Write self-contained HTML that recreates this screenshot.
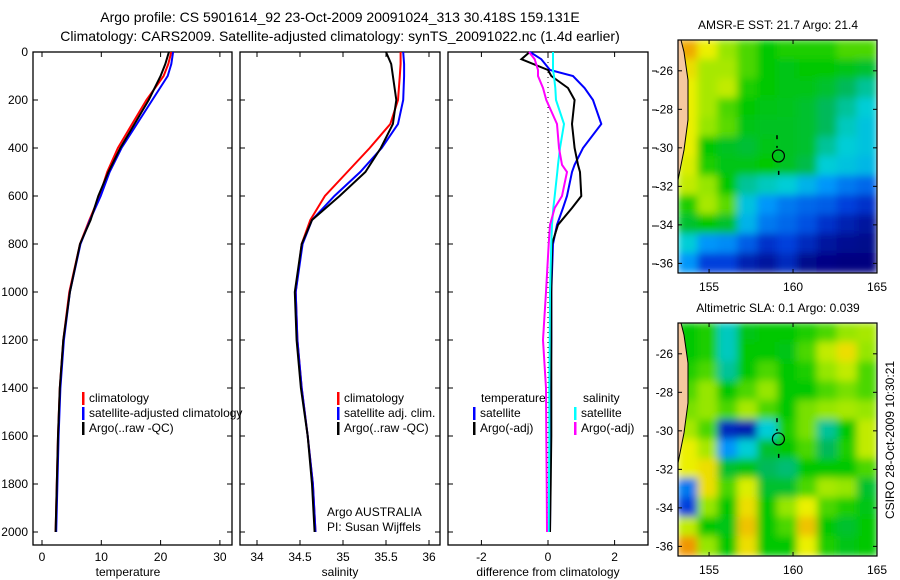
<!DOCTYPE html>
<html><head><meta charset="utf-8"><style>
html,body{margin:0;padding:0;background:#fff}
svg{display:block;font-family:"Liberation Sans",sans-serif}
</style></head><body>
<svg id="c" width="900" height="580" viewBox="0 0 900 580">
<defs>
<filter id="bl" x="0" y="0" width="1" height="1"><feGaussianBlur stdDeviation="4"/></filter>
<clipPath id="m1"><rect x="678" y="40" width="199" height="233"/></clipPath>
<clipPath id="m2"><rect x="678" y="323" width="199" height="233"/></clipPath>
</defs>
<text x="340" y="22" font-size="14" text-anchor="middle">Argo profile: CS 5901614_92 23-Oct-2009 20091024_313 30.418S 159.131E</text>
<text x="340" y="41" font-size="14" text-anchor="middle">Climatology: CARS2009. Satellite-adjusted climatology: synTS_20091022.nc (1.4d earlier)</text>
<g id="g"></g>
</svg>
<script>
const depths=[0,50,100,200,300,400,500,600,700,800,1000,1200,1400,1600,1800,2000];
const tempClim=[21.8,21.3,20.5,17.6,15.2,12.8,11.0,9.7,8.0,6.4,4.6,3.6,3.0,2.7,2.5,2.3];
const tempSat=[22.1,21.8,21.2,18.6,16.0,13.4,11.4,9.9,8.1,6.5,4.7,3.7,3.1,2.8,2.6,2.4];
const tempArgo=[21.4,20.8,20.0,18.0,15.6,13.2,11.2,9.5,8.2,6.4,4.7,3.6,3.0,2.7,2.5,2.3];
const salClim=[35.67,35.67,35.66,35.64,35.55,35.31,35.05,34.79,34.62,34.52,34.45,34.47,34.52,34.59,34.65,34.68];
const salSat=[35.70,35.71,35.71,35.70,35.64,35.45,35.2,34.9,34.64,34.53,34.45,34.47,34.52,34.59,34.65,34.68];
const salArgo=[35.5,35.56,35.58,35.62,35.58,35.44,35.26,34.96,34.64,34.52,34.44,34.46,34.51,34.59,34.64,34.67];
const diffDepths=[0,30,75,100,150,200,300,400,470,500,600,650,720,800,1000,1200,1400,1600,1800,2000];
const diffTempSat=[-0.54,-0.2,0.06,0.75,1.1,1.35,1.6,1.05,0.8,0.72,0.57,0.45,0.27,0.15,0.1,0.1,0.08,0.08,0.07,0.06];
const diffTempArgo=[-0.55,-0.8,0.0,0.1,0.6,0.8,0.72,0.8,0.9,0.96,1.0,0.72,0.3,0.12,0.1,0.1,0.1,0.1,0.08,0.06];
const diffSalSat=[0.15,0.15,0.15,0.18,0.22,0.24,0.48,0.36,0.3,0.28,0.2,0.16,0.12,0.1,0.06,0.05,0.04,0.04,0.03,0.02];
const diffSalArgo=[-0.57,-0.4,-0.3,-0.3,-0.15,-0.05,0.27,0.33,0.42,0.57,0.42,0.2,0.06,0.02,-0.06,-0.15,-0.06,-0.05,-0.04,-0.03];
const depthTicks=[0,200,400,600,800,1000,1200,1400,1600,1800,2000];
const tempTicks=[0,10,20,30];
const salTicks=["34","34.5","35","35.5","36"];
const diffTicks=[-2,0,2];
const sstGrid=[
[0.88,0.8,0.7,0.65,0.6,0.62,0.62,0.62,0.65,0.65],
[0.82,0.72,0.72,0.65,0.6,0.58,0.6,0.6,0.58,0.55],
[0.8,0.72,0.75,0.62,0.6,0.58,0.58,0.55,0.5,0.45],
[0.8,0.72,0.65,0.6,0.58,0.57,0.55,0.5,0.45,0.4],
[0.8,0.7,0.66,0.58,0.56,0.56,0.55,0.5,0.42,0.38],
[0.8,0.6,0.56,0.54,0.58,0.56,0.55,0.45,0.4,0.38],
[0.78,0.62,0.58,0.58,0.6,0.56,0.52,0.4,0.38,0.36],
[0.75,0.7,0.6,0.45,0.42,0.4,0.35,0.3,0.25,0.22],
[0.62,0.72,0.66,0.38,0.3,0.25,0.22,0.2,0.15,0.12],
[0.55,0.6,0.55,0.35,0.25,0.22,0.18,0.12,0.08,0.05],
[0.4,0.3,0.28,0.2,0.12,0.15,0.1,0.05,0.03,0.02],
[0.3,0.15,0.15,0.08,0.05,0.1,0.02,0.01,0.0,0.0]];
const slaGrid=[
[0.6,0.62,0.42,0.58,0.6,0.6,0.62,0.65,0.7,0.72],
[0.6,0.62,0.42,0.6,0.6,0.58,0.65,0.75,0.82,0.7],
[0.62,0.65,0.45,0.6,0.65,0.6,0.62,0.7,0.75,0.65],
[0.65,0.7,0.6,0.65,0.7,0.6,0.6,0.65,0.68,0.65],
[0.68,0.7,0.65,0.72,0.65,0.6,0.68,0.7,0.72,0.7],
[0.72,0.65,0.1,0.08,0.4,0.62,0.68,0.45,0.6,0.75],
[0.8,0.72,0.3,0.4,0.55,0.6,0.65,0.5,0.62,0.75],
[0.8,0.82,0.55,0.58,0.5,0.48,0.6,0.6,0.6,0.65],
[0.25,0.82,0.65,0.78,0.55,0.55,0.65,0.72,0.7,0.55],
[0.15,0.7,0.6,0.82,0.6,0.7,0.8,0.65,0.62,0.58],
[0.75,0.6,0.58,0.85,0.6,0.65,0.85,0.6,0.55,0.6],
[0.9,0.7,0.6,0.82,0.6,0.6,0.8,0.62,0.58,0.6]];
const lonTicks=[155,160,165];
const latTicks=[-26,-28,-30,-32,-34,-36];

const NS="http://www.w3.org/2000/svg";
const G=document.getElementById('g');
function mk(t,a,p){const e=document.createElementNS(NS,t);for(const k in a)e.setAttribute(k,a[k]);(p||G).appendChild(e);return e;}
const yD=d=>52+d*0.24;
const xT=t=>42+t*5.93;
const xS=s=>257+86*(s-34);
const xDf=d=>548+33.3*d;

function panel(x0,x1,name){
  const r=mk('rect',{x:x0,y:52,width:x1-x0,height:493,fill:'none',stroke:'#000','stroke-width':1.3});
  
  
  depthTicks.forEach(d=>{mk('line',{x1:x0,x2:x0+5,y1:yD(d),y2:yD(d),stroke:'#000'});mk('line',{x1:x1-5,x2:x1,y1:yD(d),y2:yD(d),stroke:'#000'});});
}
function line(xs,ds,fx,col,name){
  const pts=xs.map((v,i)=>fx(v).toFixed(1)+','+yD(ds[i]).toFixed(1)).join(' ');
  const p=mk('polyline',{points:pts,fill:'none',stroke:col,'stroke-width':2});
  
  
}
function txt(x,y,s,opt){const t=mk('text',Object.assign({x:x,y:y,'font-size':12},opt||{}));t.textContent=s;return t;}

panel(33,232,'temperature-panel');
depthTicks.forEach(d=>{const t=txt(28,yD(d)+4,String(d),{'text-anchor':'end'});});
tempTicks.forEach(v=>{mk('line',{x1:xT(v),x2:xT(v),y1:545,y2:540,stroke:'#000'});mk('line',{x1:xT(v),x2:xT(v),y1:52,y2:57,stroke:'#000'});const t=txt(xT(v),561,String(v),{'text-anchor':'middle'});});
line(tempClim,depths,xT,'#f00','temp-climatology-line');
line(tempSat,depths,xT,'#00f','temp-satellite-line');
line(tempArgo,depths,xT,'#000','temp-argo-line');
let t=txt(128,576,'temperature',{'text-anchor':'middle'});

panel(240,440,'salinity-panel');
salTicks.forEach(v=>{const x=xS(+v);mk('line',{x1:x,x2:x,y1:545,y2:540,stroke:'#000'});mk('line',{x1:x,x2:x,y1:52,y2:57,stroke:'#000'});const tt=txt(x,561,v,{'text-anchor':'middle'});});
line(salClim,depths,xS,'#f00','sal-climatology-line');
line(salSat,depths,xS,'#00f','sal-satellite-line');
line(salArgo,depths,xS,'#000','sal-argo-line');
t=txt(340,576,'salinity',{'text-anchor':'middle'});

panel(448,648,'difference-panel');
diffTicks.forEach(v=>{const x=xDf(v);mk('line',{x1:x,x2:x,y1:545,y2:540,stroke:'#000'});mk('line',{x1:x,x2:x,y1:52,y2:57,stroke:'#000'});const tt=txt(x,561,v<0?'-'+Math.abs(v):String(v),{'text-anchor':'middle'});});
mk('line',{x1:xDf(0),x2:xDf(0),y1:52,y2:532,stroke:'#000','stroke-dasharray':'1,4'});
line(diffTempSat,diffDepths,xDf,'#00f','diff-temp-satellite-line');
line(diffTempArgo,diffDepths,xDf,'#000','diff-temp-argo-line');
line(diffSalSat,diffDepths,xDf,'#0ff','diff-sal-satellite-line');
line(diffSalArgo,diffDepths,xDf,'#f0f','diff-sal-argo-line');
t=txt(548,576,'difference from climatology',{'text-anchor':'middle'});
[71,110,148,187,226,264].forEach(y=>mk('line',{x1:652,x2:657,y1:y,y2:y,stroke:'#000'}));

function leg(x,y,col,label,name){
  mk('rect',{x:x,y:y-10,width:2.5,height:13,fill:col});
  const e=txt(x+7,y,label);
  
  
}
leg(82,402,'#f00','climatology','legend-climatology');
leg(82,417,'#00f','satellite-adjusted climatology','legend-satellite-adjusted');
leg(82,432,'#000','Argo(..raw -QC)','legend-argo');
leg(337,402,'#f00','climatology','legend-climatology-2');
leg(337,417,'#00f','satellite adj. clim.','legend-satellite-2');
leg(337,432,'#000','Argo(..raw -QC)','legend-argo-2');
t=txt(481,402,'temperature');
t=txt(583,402,'salinity');
leg(473,417,'#00f','satellite','legend-temp-satellite');
leg(473,432,'#000','Argo(-adj)','legend-temp-argo');
leg(574,417,'#0ff','satellite','legend-sal-satellite');
leg(574,432,'#f0f','Argo(-adj)','legend-sal-argo');
t=txt(327,516,'Argo AUSTRALIA');
t=txt(327,531,'PI: Susan Wijffels');

const cmapStops=[[0,0,0,128],[0.15,0,64,220],[0.3,0,150,250],[0.4,0,205,215],[0.5,0,185,90],[0.6,0,200,0],[0.7,150,230,0],[0.8,235,240,0],[0.9,240,150,0],[1,200,0,0]];
function cmap(v){
  v=Math.max(0,Math.min(1,v));
  for(let i=1;i<cmapStops.length;i++){
    const a=cmapStops[i-1],b=cmapStops[i];
    if(v<=b[0]){const f=(v-a[0])/(b[0]-a[0]);
      return `rgb(${Math.round(a[1]+f*(b[1]-a[1]))},${Math.round(a[2]+f*(b[2]-a[2]))},${Math.round(a[3]+f*(b[3]-a[3]))})`;}
  }
  return 'rgb(200,0,0)';
}
const lon0=153.15,lon1=165,lat0=-24.4,lat1=-36.5;
function map(y0,grid,clip,name,title,titleName){
  const xL=lon=>678+(lon-lon0)/(lon1-lon0)*199;
  const yL=lat=>y0+(lat-lat0)/(lat1-lat0)*233;
  const grp=mk('g',{'clip-path':'url(#'+clip+')'});
  
  
  const inner=mk('g',{filter:'url(#bl)'},grp);
  const rows=grid.length,cols=grid[0].length;
  const cw=199/cols,ch=233/rows;
  mk('rect',{x:678,y:y0,width:199,height:233,fill:cmap(grid[0][0])},inner);
  grid.forEach((row,i)=>row.forEach((v,j)=>{
    const cell=mk('rect',{x:678+j*cw-0.5,y:y0+i*ch-0.5,width:cw+1,height:ch+1,fill:cmap(v)},inner);
    
    
  }));
  mk('path',{d:`M678 ${y0} L681 ${y0} L684 ${y0+12} L688 ${y0+40} L688 ${y0+80} L684 ${y0+110} L678 ${y0+140} Z`,fill:'#f5c8a0'},grp);
  mk('path',{d:`M681 ${y0} L684 ${y0+12} L688 ${y0+40} L688 ${y0+80} L684 ${y0+110} L678 ${y0+140}`,fill:'none',stroke:'#000','stroke-width':1},grp);
  mk('circle',{cx:xL(159.13),cy:yL(-30.42),r:6,fill:'none',stroke:'#000','stroke-width':1.2},grp);
  mk('rect',{x:xL(159.0),y:yL(-29.5)-3,width:1.5,height:4,fill:'#000'},grp);
  mk('rect',{x:xL(159.0),y:yL(-29.95)-1,width:1.5,height:2,fill:'#000'},grp);
  mk('rect',{x:xL(159.1),y:yL(-31.3)-2,width:1.5,height:4,fill:'#000'},grp);
  mk('rect',{x:678,y:y0,width:199,height:233,fill:'none',stroke:'#000','stroke-width':1.2});
  lonTicks.forEach(l=>{mk('line',{x1:xL(l),x2:xL(l),y1:y0,y2:y0+4,stroke:'#000'});mk('line',{x1:xL(l),x2:xL(l),y1:y0+233,y2:y0+229,stroke:'#000'});
    const tt=txt(xL(l),y0+251,String(l),{'text-anchor':'middle'});});
  latTicks.forEach(l=>{mk('line',{x1:678,x2:682,y1:yL(l),y2:yL(l),stroke:'#000'});mk('line',{x1:877,x2:873,y1:yL(l),y2:yL(l),stroke:'#000'});
    const tt=txt(673,yL(l)+4,String(l),{'text-anchor':'end'});});
  const tl=txt(778,y0-11,title,{'text-anchor':'middle'});
  
  
}
map(40,sstGrid,'m1','sst-map','AMSR-E SST: 21.7 Argo: 21.4','sst-map-title');
map(323,slaGrid,'m2','sla-map','Altimetric SLA: 0.1 Argo: 0.039','sla-map-title');
t=txt(0,0,'CSIRO 28-Oct-2009 10:30:21',{'text-anchor':'middle',transform:'translate(894,440) rotate(-90)'});


</script>
</body></html>
